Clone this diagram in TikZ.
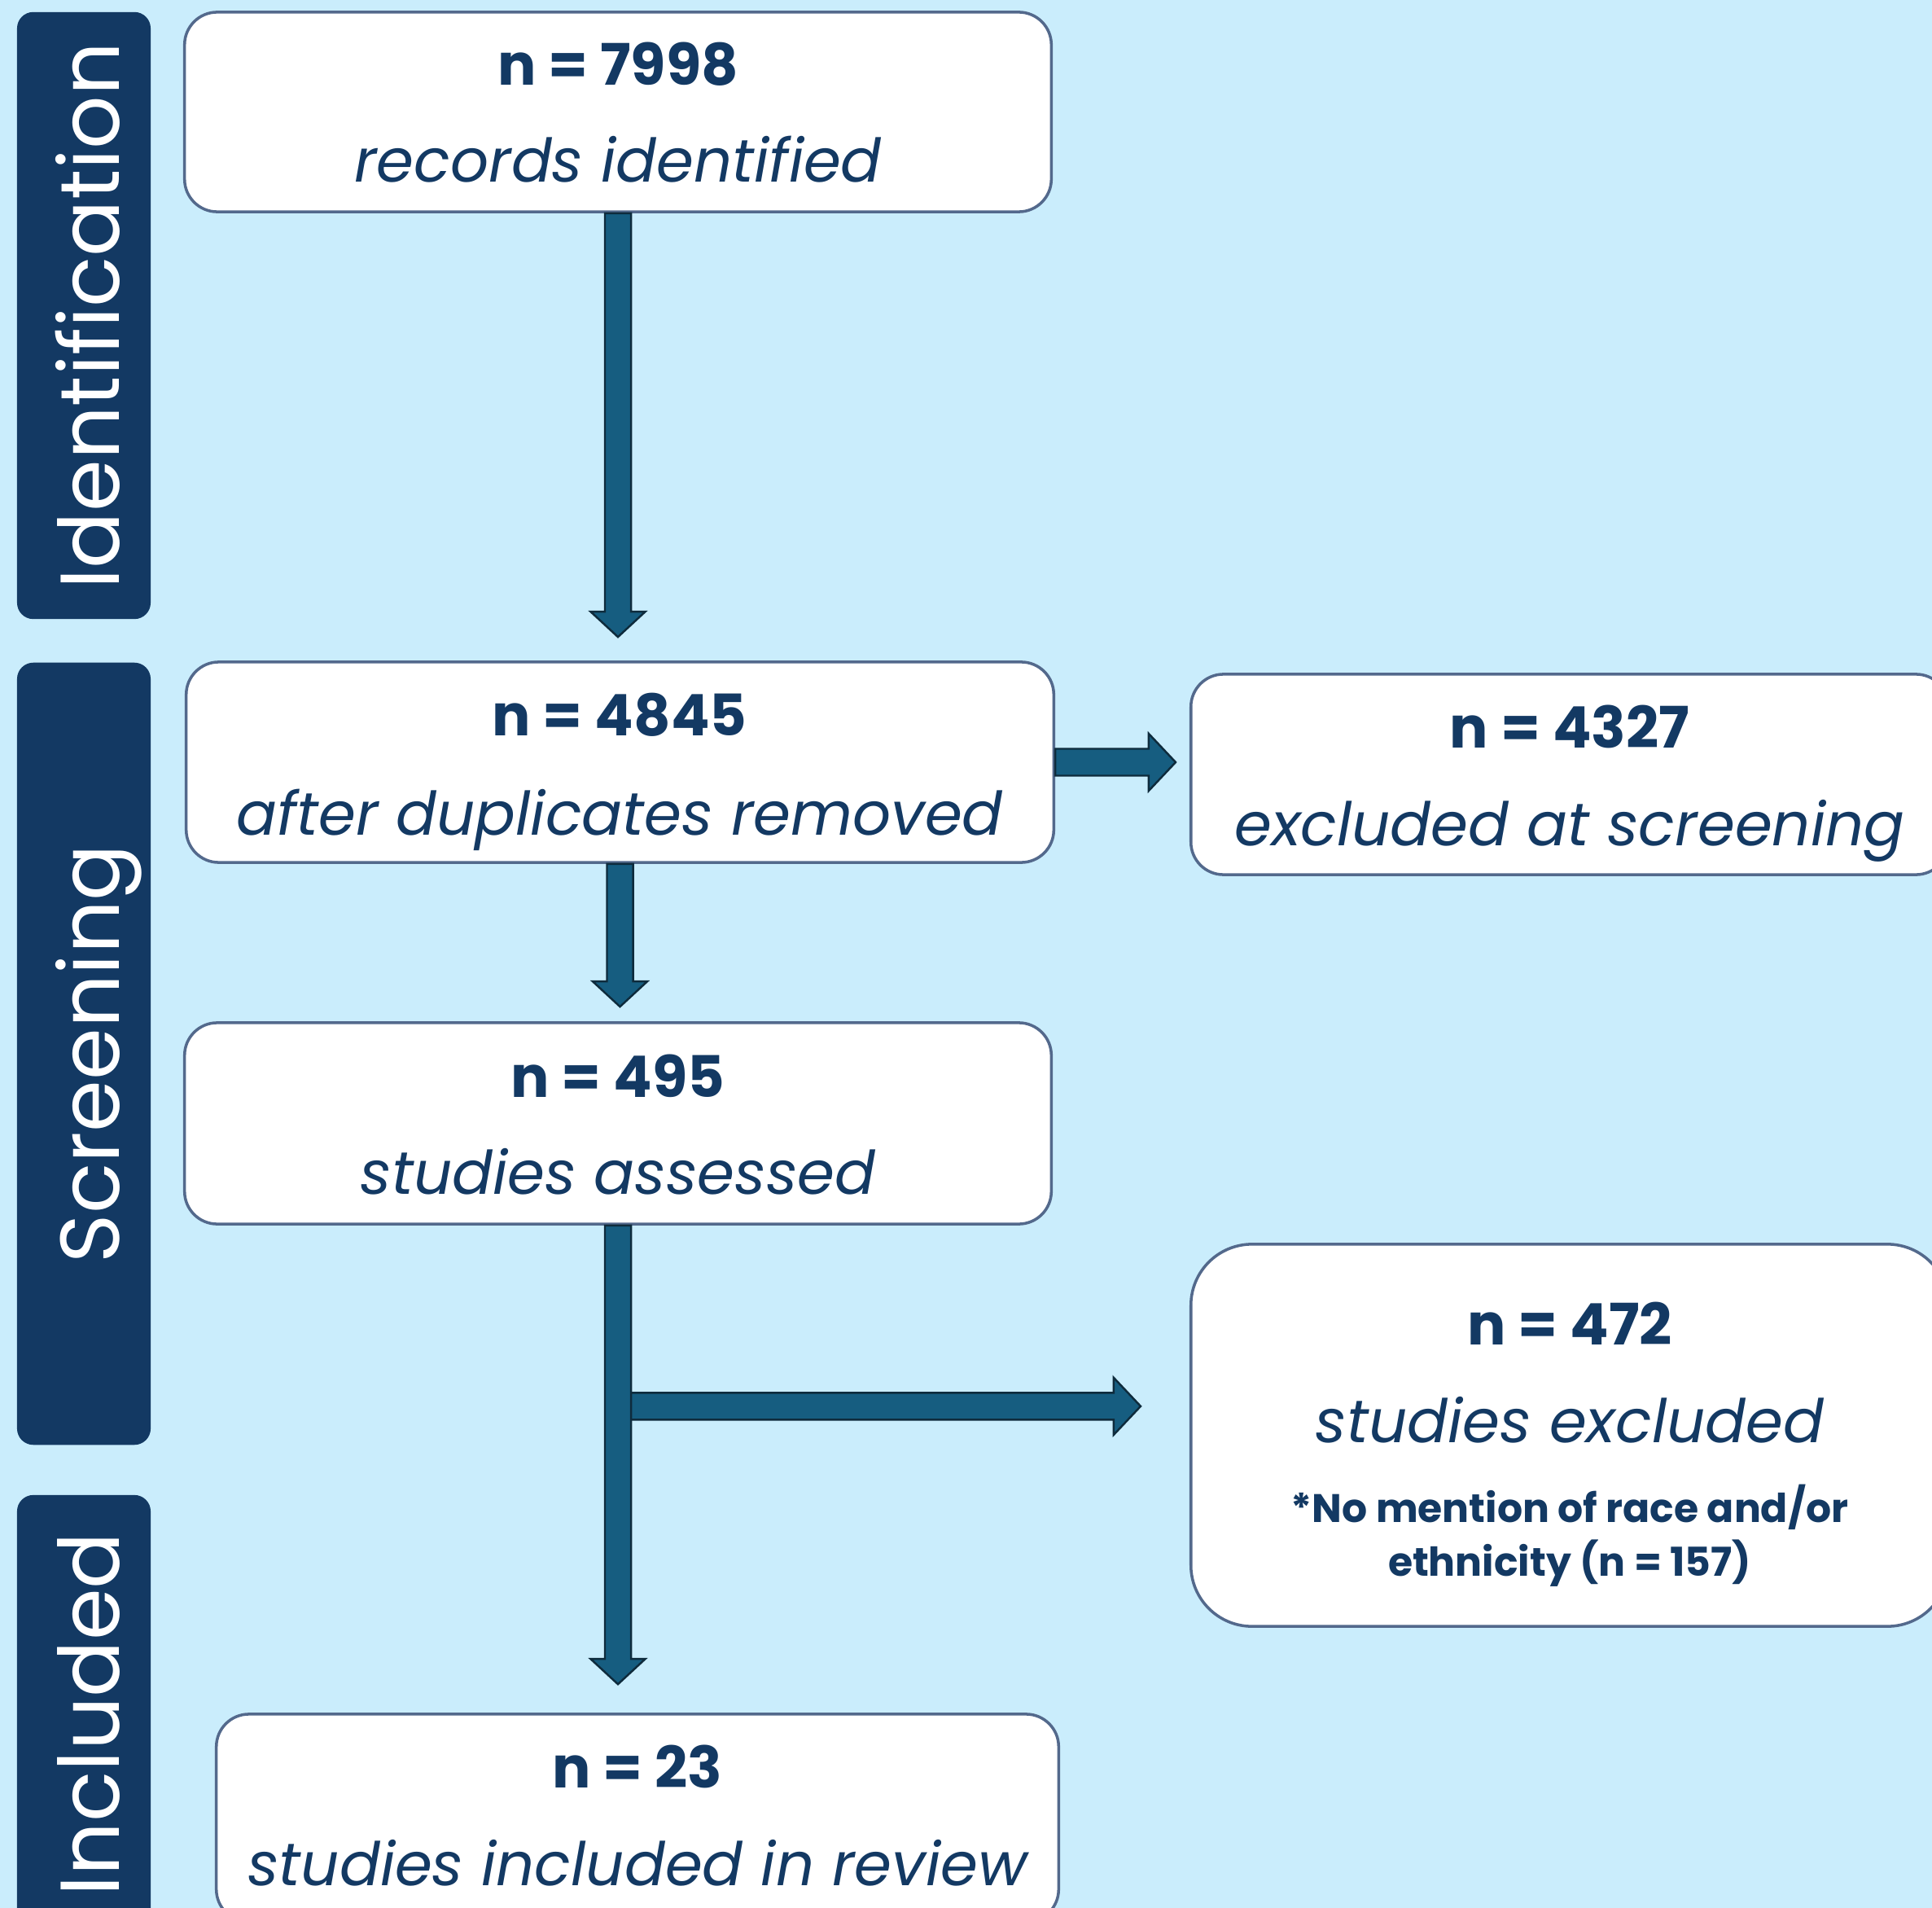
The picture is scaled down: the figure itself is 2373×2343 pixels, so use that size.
\documentclass[tikz,border=0pt]{standalone}
\usepackage{fontspec}
\setmainfont{Poppins}
\usepackage{tikz}
\usetikzlibrary{calc}

\definecolor{bgblue}{HTML}{CAEDFC}
\definecolor{navy}{HTML}{133963}
\definecolor{arrowteal}{HTML}{165D80}
\definecolor{arrowedge}{HTML}{0E2B3C}
\definecolor{boxedge}{HTML}{53698C}

% block arrows between nodes
\newcommand{\blockdown}[2]{%
  \path[blockarrow] let \p1=(#1), \p2=(#2) in
    (\x1-0.16cm,\y1) -- (\x1-0.16cm,\y2+0.31cm) -- (\x1-0.335cm,\y2+0.31cm)
    -- (\x1,\y2) -- (\x1+0.335cm,\y2+0.31cm) -- (\x1+0.16cm,\y2+0.31cm)
    -- (\x1+0.16cm,\y1) -- cycle;}
\newcommand{\blockright}[2]{%
  \path[blockarrow] let \p1=(#1), \p2=(#2) in
    (\x1,\y1+0.165cm) -- (\x2-0.33cm,\y1+0.165cm) -- (\x2-0.33cm,\y1+0.35cm)
    -- (\x2,\y1) -- (\x2-0.33cm,\y1-0.35cm) -- (\x2-0.33cm,\y1-0.165cm)
    -- (\x1,\y1-0.165cm) -- cycle;}

\begin{document}
\begin{tikzpicture}[
    x=0.01cm, y=-0.01cm,
    stagebar/.style={fill=navy, text=white, rotate=90, rounded corners=0.2cm,
        minimum height=1.64cm, inner sep=0pt, text height=25pt, text depth=0pt,
        font=\fontsize{29.2}{30}\selectfont},
    stepbox/.style={draw=boxedge, line width=1pt, fill=white, rounded corners=0.4cm,
        inner sep=0pt},
    numtxt/.style={anchor=base, text=navy, font=\fontsize{20}{24}\selectfont\bfseries},
    desctxt/.style={anchor=base, text=navy, font=\fontsize{21}{25}\selectfont\itshape},
    notetxt/.style={anchor=base, text=navy, font=\fontsize{13.9}{16}\selectfont\bfseries},
    blockarrow/.style={fill=arrowteal, draw=arrowedge, line width=0.7pt, line join=miter}
]
    \useasboundingbox (0,0) rectangle (2373,2343);
    \clip (0,0) rectangle (2373,2343);
    \fill[bgblue] (0,0) rectangle (2373,2343);

    % Stage bars
    \node[stagebar, minimum width=7.45cm] (idbar) at (103,387.5) {Identification};
    \node[stagebar, minimum width=9.6cm] (scrbar) at (103,1294) {Screening};
    \node[stagebar, minimum width=5.38cm] (inclbar) at (103,2105) {Included};

    % Records identified
    \node[stepbox, minimum width=10.64cm, minimum height=2.45cm] (rec) at (759,137.5) {};
    \node[numtxt] (recn) at (759,105) {n = 7998};
    \node[desctxt] (rectxt) at (759,224) {records identified};

    % Duplicates removed
    \node[stepbox, minimum width=10.65cm, minimum height=2.46cm] (dedup) at (761.5,936) {};
    \node[numtxt] (dedupn) at (761,903) {n = 4845};
    \node[desctxt] (deduptxt) at (761,1025) {after duplicates removed};

    % Excluded at screening
    \node[stepbox, minimum width=9.3cm, minimum height=2.46cm] (exscr) at (1928,951) {};
    \node[numtxt] (exscrn) at (1928,918) {n = 4327};
    \node[desctxt] (exscrtxt) at (1928,1038) {excluded at screening};

    % Studies assessed
    \node[stepbox, minimum width=10.64cm, minimum height=2.47cm] (assess) at (759,1379.5) {};
    \node[numtxt] (assessn) at (759,1347) {n = 495};
    \node[desctxt] (assesstxt) at (759,1466) {studies assessed};

    % Studies excluded
    \node[stepbox, rounded corners=0.75cm, minimum width=9.3cm, minimum height=4.69cm] (exfull) at (1928,1762.5) {};
    \node[numtxt] (exfulln) at (1928,1651) {n = 472};
    \node[desctxt] (exfulltxt) at (1928,1771) {studies excluded};
    \node[notetxt] (note1) at (1928,1869) {*No mention of race and/or};
    \node[notetxt] (note2) at (1928,1935) {ethnicity (n = 157)};

    % Studies included
    \node[stepbox, minimum width=10.34cm, minimum height=2.55cm] (incl) at (783,2232.5) {};
    \node[numtxt] (incln) at (783,2195) {n = 23};
    \node[desctxt] (incltxt) at (783,2315) {studies included in review};

    % Arrows
    \coordinate (split) at ($(assess.south)+(0,222)$);
    \blockdown{rec.south}{$(dedup.north)+(0,-29)$}
    \blockright{dedup.east}{$(exscr.west)+(-17,0)$}
    \blockdown{dedup.south}{$(assess.north)+(0,-18)$}
    \blockright{split}{$(exfull.west)+(-60,0)$}
    \blockdown{assess.south}{$(incl.north)+(0,-35)$}
\end{tikzpicture}
\end{document}
